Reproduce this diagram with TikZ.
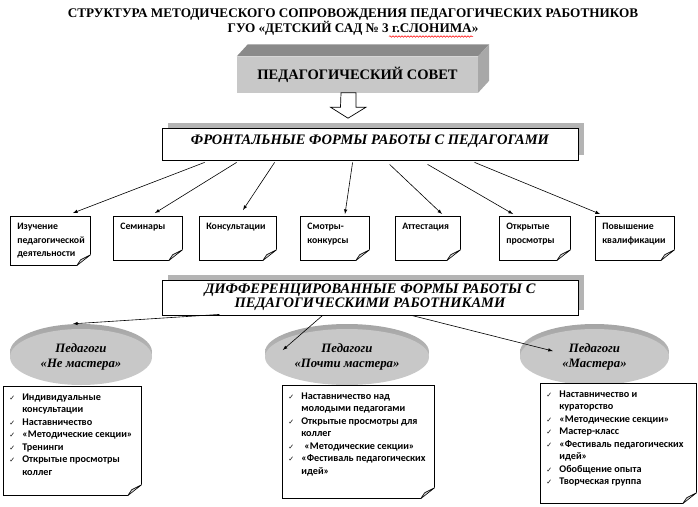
\documentclass[tikz,border=0pt]{standalone}
\usepackage{fontspec}
\setmainfont{Liberation Serif}
\newfontfamily\boxfont{Carlito}
\newfontfamily\symfont{DejaVu Sans}
\usetikzlibrary{calc,shadows,shapes.geometric,decorations.pathmorphing}

\definecolor{shadowGray}{RGB}{180,180,180}
\definecolor{discGray}{RGB}{200,200,200}
\definecolor{discRim}{RGB}{165,165,165}
\definecolor{councilFront}{RGB}{200,200,200}
\definecolor{councilTop}{RGB}{138,138,138}
\definecolor{councilSide}{RGB}{168,168,168}
\definecolor{foldGray}{RGB}{215,215,215}

\newcommand{\ck}{{\symfont\mdseries\fontsize{7}{7}\selectfont ✓}}

\begin{document}
\begin{tikzpicture}[x=1pt, y=-1pt, >=latex,
  titletext/.style={align=center, inner sep=0pt, font=\bfseries\fontsize{13.2}{14}\selectfont},
  council/.style={fill=councilFront, minimum width=241pt, minimum height=36pt, inner sep=0pt, font=\bfseries\fontsize{14.5}{16}\selectfont},
  headbox/.style={draw, fill=white, line width=0.8pt, align=center, inner sep=0pt, font=\bfseries\itshape\fontsize{14.5}{14}\selectfont, drop shadow={shadow xshift=6pt, shadow yshift=5pt, fill=shadowGray, opacity=1}},
  formbox/.style={draw, fill=white, line width=0.7pt, anchor=north west, inner xsep=7pt, inner ysep=4pt, font=\boxfont\bfseries\fontsize{9.8}{13.5}\selectfont},
  listbox/.style={draw, fill=white, line width=0.7pt, anchor=north west, inner xsep=6pt, inner ysep=5pt, font=\boxfont\bfseries\fontsize{10.2}{12.5}\selectfont},
  disc/.style={ellipse, fill=discGray, inner sep=0pt, align=center, font=\bfseries\itshape\fontsize{12.8}{14.5}\selectfont},
  discrim/.style={ellipse, top color=discRim, bottom color=discGray, inner sep=0pt},
  link/.style={->, line width=0.6pt},
  spell/.style={red, line width=0.5pt, decorate, decoration={snake, amplitude=0.8pt, segment length=3pt}}
]
\useasboundingbox (0,0) rectangle (698,506);

% title
\node[titletext] (title) at (353,22) {СТРУКТУРА МЕТОДИЧЕСКОГО СОПРОВОЖДЕНИЯ ПЕДАГОГИЧЕСКИХ РАБОТНИКОВ\\ГУО «ДЕТСКИЙ САД № 3 г.СЛОНИМА»};
\draw[spell] ($(title.south)+(36,1)$) -- ($(title.south)+(120,1)$);

% council block
\node[council] (council) at (357.5,74.5) {ПЕДАГОГИЧЕСКИЙ СОВЕТ};
\fill[councilTop] (council.north west) -- ++(11,-12) -- ($(council.north east)+(11,-12)$) -- (council.north east) -- cycle;
\fill[councilSide] (council.north east) -- ++(11,-12) -- ($(council.south east)+(11,-12)$) -- (council.south east) -- cycle;

% frontal forms
\node[headbox, minimum width=416pt, minimum height=32pt, text height=10pt, text depth=10pt] (front) at (370,144) {ФРОНТАЛЬНЫЕ ФОРМЫ РАБОТЫ С ПЕДАГОГАМИ};
\draw[fill=white, line width=0.7pt] ($(council.south)+(-16.5,0)$) -- ++(15,0) -- ++(0,14.5) -- ++(10,0) -- ($(council.south)+(-9.5,25.5)$) -- ++(-17.5,-11) -- ++(10,0) -- cycle;

\node[formbox] (f1) at (10,216) {\parbox[c][41pt][t]{66pt}{\raggedright\strut Изучение\\педагогической\\деятельности}};
\node[formbox] (f2) at (113,216) {\parbox[c][36pt][t]{55pt}{\raggedright\strut Семинары}};
\node[formbox] (f3) at (199,216) {\parbox[c][36pt][t]{63pt}{\raggedright\strut Консультации}};
\node[formbox] (f4) at (300,216) {\parbox[c][36pt][t]{55pt}{\raggedright\strut Смотры-\\конкурсы}};
\node[formbox] (f5) at (395,216) {\parbox[c][36pt][t]{51pt}{\raggedright\strut Аттестация}};
\node[formbox] (f6) at (499,216) {\parbox[c][36pt][t]{57pt}{\raggedright\strut Открытые\\просмотры}};
\node[formbox] (f7) at (595,216) {\parbox[c][36pt][t]{65pt}{\raggedright\strut Повышение\\квалификации}};

\draw[link] ($(front.south west)+(43,2)$) -- ($(f1.north west)+(63,-3)$);
\draw[link] ($(front.south west)+(75,2)$) -- ($(f2.north west)+(42,-3)$);
\draw[link] ($(front.south west)+(113,2)$) -- ($(f3.north west)+(44,-6)$);
\draw[link] ($(front.south west)+(191,2)$) -- ($(f4.north west)+(45,-2)$);
\draw[link] ($(front.south west)+(228,4)$) -- ($(f5.north west)+(47,-2)$);
\draw[link] ($(front.south west)+(266,4)$) -- ($(f6.north west)+(14,-2)$);
\draw[link] ($(front.south west)+(313,2)$) -- ($(f7.north west)+(5,-2)$);

% differentiated forms
\node[headbox, minimum width=416pt, minimum height=35pt] (diff) at (370,297.5) {ДИФФЕРЕНЦИРОВАННЫЕ ФОРМЫ РАБОТЫ С\\ПЕДАГОГИЧЕСКИМИ РАБОТНИКАМИ};

\node[discrim, minimum width=142pt, minimum height=56pt] (e1rim) at (81,352) {};
\node[disc, minimum width=142pt, minimum height=56pt] (e1) at (81,357) {Педагоги\\«Не мастера»};
\node[discrim, minimum width=164pt, minimum height=56pt] (e2rim) at (347,352) {};
\node[disc, minimum width=164pt, minimum height=56pt] (e2) at (347,357) {Педагоги\\«Почти мастера»};
\node[discrim, minimum width=149pt, minimum height=56pt] (e3rim) at (594.5,352) {};
\node[disc, minimum width=149pt, minimum height=56pt] (e3) at (594.5,357) {Педагоги\\«Мастера»};

\draw[link] ($(diff.south west)+(58,-1)$) -- ($(e1rim.north)+(-8,0)$);
\draw[link] ($(diff.south west)+(161,0)$) -- ($(e2.west)+(18,-7)$);
\draw[link] ($(diff.south west)+(250,0)$) -- ($(e3.west)+(33,-6)$);

\node[listbox] (l1) at (3,386) {\parbox[c][99pt][t]{126pt}{\begin{tabular}{@{}p{13pt}@{}l@{}}
\ck & Индивидуальные\\
 & консультации\\
\ck & Наставничество\\
\ck & «Методические секции»\\
\ck & Тренинги\\
\ck & Открытые просмотры\\
 & коллег
\end{tabular}}};
\node[listbox] (l2) at (282,385) {\parbox[c][103pt][t]{140pt}{\begin{tabular}{@{}p{13pt}@{}l@{}}
\ck & Наставничество над\\
 & молодыми педагогами\\
\ck & Открытые просмотры для\\
 & коллег\\
\ck & \hspace{3pt}«Методические секции»\\
\ck & «Фестиваль педагогических\\
 & идей»
\end{tabular}}};
\node[listbox] (l3) at (540,383) {\parbox[c][110pt][t]{144pt}{\begin{tabular}{@{}p{13pt}@{}l@{}}
\ck & Наставничество и\\
 & кураторство\\
\ck & «Методические секции»\\
\ck & Мастер-класс\\
\ck & «Фестиваль педагогических\\
 & идей»\\
\ck & Обобщение опыта\\
\ck & Творческая группа
\end{tabular}}};

% folded corners
\foreach \b in {f1,f2,f3,f4,f5,f6,f7,l1,l2,l3} {
  \fill[white] ($(\b.south east)+(-16,2)$) -- ($(\b.south east)+(2,2)$) -- ($(\b.south east)+(2,-13)$) -- cycle;
  \filldraw[fill=foldGray, line width=0.6pt, line join=round] ($(\b.south east)+(-14,0)$) -- ($(\b.south east)+(-10,-6)$) -- ($(\b.south east)+(0,-11)$) -- cycle;
}
\end{tikzpicture}
\end{document}
